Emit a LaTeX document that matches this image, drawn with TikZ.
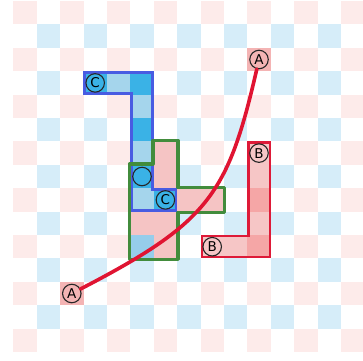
\documentclass[tikz,border=0pt]{standalone}
\usepackage{fontspec}
\setmainfont{DejaVu Sans}
\definecolor{bgpink}{RGB}{253,235,234}
\definecolor{bgblue}{RGB}{214,237,249}
\definecolor{bdark}{RGB}{58,178,230}
\definecolor{blight}{RGB}{165,213,236}
\definecolor{bline}{RGB}{72,92,226}
\definecolor{gline}{RGB}{66,140,60}
\definecolor{gpink}{RGB}{245,196,196}
\definecolor{gblue}{RGB}{150,205,235}
\definecolor{rlight}{RGB}{246,198,198}
\definecolor{rdark}{RGB}{245,166,166}
\definecolor{rline}{RGB}{222,26,56}
\definecolor{acell}{RGB}{244,180,180}
\definecolor{curvecol}{RGB}{224,20,50}
\tikzset{
  lbl/.style={circle, draw=black!85, line width=1.1pt, minimum size=18.5pt, inner sep=0pt, font=\fontsize{13.5}{13.5}\selectfont},
  blueout/.style={draw=bline, line width=2.4pt, line join=miter},
  greenout/.style={draw=gline, line width=3.4pt, line join=round},
  redout/.style={draw=rline, line width=2.2pt, line join=miter},
  curve/.style={draw=curvecol, line width=3.6pt, line cap=round}
}
\begin{document}
\begin{tikzpicture}[x=23.4pt,y=-23.4pt]
\useasboundingbox (-0.5684,-0.0427) rectangle (14.944,15.342);
\clip (-0.5684,-0.0427) rectangle (14.944,15.342);
\fill[white] (-0.5684,-0.0427) rectangle (14.944,15.342);
% checkerboard
\foreach \c in {0,2,...,14}{\foreach \r in {0,2,...,14}{\fill[bgpink] (\c,\r) rectangle ++(1,1);}}
\foreach \c in {1,3,...,13}{\foreach \r in {1,3,...,13}{\fill[bgblue] (\c,\r) rectangle ++(1,1);}}
% green shape fills
\foreach \c/\r in {6/6,6/7,7/8,8/8,5/9,6/9,6/10}{\fill[gpink] (\c,\r) rectangle ++(1,1);}
\fill[gblue] (5,10) rectangle ++(1,1);
% blue shape fills
\foreach \c/\r in {3/3,5/3,5/5,5/7,6/8}{\fill[bdark] (\c,\r) rectangle ++(1,1);}
\foreach \c/\r in {4/3,5/4,5/6,5/8}{\fill[blight] (\c,\r) rectangle ++(1,1);}
% red shape fills
\foreach \c/\r in {10/6,10/7,10/9,9/10,8/10}{\fill[rlight] (\c,\r) rectangle ++(1,1);}
\foreach \c/\r in {10/8,10/10}{\fill[rdark] (\c,\r) rectangle ++(1,1);}
% A cells
\fill[acell] (2,12) rectangle ++(1,1);
\fill[acell] (10,2) rectangle ++(1,1);
% outlines
\def\d{0.05}
\draw[blueout] (3+\d,3+\d) -- (6-\d,3+\d) -- (6-\d,8+\d) -- (7-\d,8+\d) -- (7-\d,9-\d) -- (5+\d,9-\d) -- (5+\d,4-\d) -- (3+\d,4-\d) -- cycle;
\def\e{0.035}
\draw[greenout] (6-\e,6-\e) -- (7+\e,6-\e) -- (7+\e,8-\e) -- (9+\e,8-\e) -- (9+\e,9+\e) -- (7+\e,9+\e) -- (7+\e,11+\e) -- (5-\e,11+\e) -- (5-\e,7-\e) -- (6-\e,7-\e) -- cycle;
\def\f{0.047}
\draw[redout] (10+\f,6+\f) -- (11-\f,6+\f) -- (11-\f,11-\f) -- (8+\f,11-\f) -- (8+\f,10+\f) -- (10+\f,10+\f) -- cycle;
% labels
\node[lbl] (a1) at (2.5,12.5) {A};
\node[lbl] (a2) at (10.5,2.5) {A};
\node[lbl] (b1) at (10.5,6.5) {B};
\node[lbl] (b2) at (8.5,10.5) {B};
\node[lbl] (c1) at (3.5,3.5) {C};
\node[lbl] (c2) at (6.5,8.5) {C};
\node[lbl] (o1) at (5.5,7.5) {};
% curve
\draw[curve] (a1) .. controls (8.372,9.453) and (9.175,8.256) .. (a2);
\end{tikzpicture}
\end{document}
